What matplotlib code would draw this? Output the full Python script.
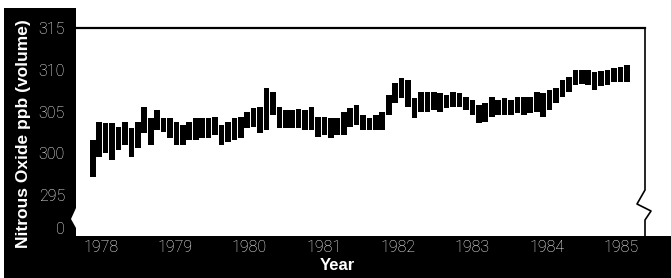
import matplotlib
matplotlib.use("Agg")
import matplotlib.pyplot as plt
import numpy as np
from matplotlib.patches import Rectangle, Polygon
from matplotlib.lines import Line2D

# monthly range of nitrous oxide (ppb)
lows = [297.2, 299.5, 300.0, 299.2, 300.4, 301.0, 299.5, 300.6, 302.4, 301.0,
        302.8, 302.5, 301.8, 301.0, 301.0,
        301.6, 301.6, 301.8, 301.8, 302.2, 301.0, 301.3, 301.6, 301.8, 303.0,
        303.1, 302.4, 302.8, 304.6,
        303.0, 303.0, 303.0, 303.0, 302.8, 302.8, 302.0, 302.2, 301.8, 302.2,
        302.2, 303.1, 303.4, 302.8, 302.8, 302.8, 302.8, 304.6, 306.0, 306.6,
        305.5, 304.2, 304.9, 304.9, 305.2, 304.9, 305.4, 305.5, 305.5,
        305.2, 304.6, 303.6, 303.8, 304.3, 304.6, 304.6, 304.6, 304.8, 304.6,
        304.8, 304.9, 304.3, 305.2, 306.0, 306.7, 307.3, 308.2, 308.3, 308.2,
        307.6, 308.0, 308.2, 308.5, 308.5, 308.5]
highs = [301.6, 303.7, 303.6, 303.6, 303.1, 303.7, 303.0, 303.7, 305.5, 304.2,
         305.2, 304.2, 304.2, 303.7, 303.4,
         303.7, 304.2, 304.2, 304.2, 304.3, 303.4, 303.7, 304.2, 304.3, 304.9,
         305.4, 305.5, 307.8, 307.3,
         305.5, 305.2, 305.2, 305.3, 305.2, 305.5, 304.3, 304.3, 304.2, 304.2,
         304.9, 305.4, 305.8, 304.6, 304.2, 304.6, 304.9, 307.0, 308.4, 309.0,
         308.8, 306.6, 307.3, 307.3, 307.3, 307.2, 307.0, 307.3, 307.2,
         306.7, 306.4, 305.8, 306.0, 306.7, 306.4, 306.6, 306.4, 306.7, 306.7,
         306.7, 307.3, 307.2, 307.6, 307.8, 308.8, 309.1, 310.0, 310.0, 310.0,
         309.7, 309.8, 310.0, 310.2, 310.3, 310.6]
first_year = 1977.89
last_year = 1985.08

years = [1978, 1979, 1980, 1981, 1982, 1983, 1984, 1985]
y_ticks = [295, 300, 305, 310, 315]

W, H = 671, 278


def fx(px):
    return px / W


def fy(py):
    return 1 - py / H


fig = plt.figure(figsize=(W / 100, H / 100), dpi=100)
fig.patch.set_facecolor("white")

# black L-shaped frame from the scan (behind the axes so tick labels show)
fig.patches.append(Rectangle((fx(4), 0), fx(76) - fx(4), fy(8), transform=fig.transFigure,
                             facecolor="black", edgecolor="none", zorder=-5))
fig.patches.append(Rectangle((fx(4), 0), 1 - fx(4), fy(236), transform=fig.transFigure,
                             facecolor="black", edgecolor="none", zorder=-5))

ax = fig.add_axes([fx(76), fy(236), fx(645) - fx(76), fy(28) - fy(236)])
ax.set_facecolor("white")

x = np.linspace(first_year, last_year, len(lows))
lo = np.array(lows)
hi = np.array(highs)
ax.bar(x, hi - lo, bottom=lo, width=0.076, color="black", linewidth=0)

ax.set_xlim(1977.664, 1985.325)
ax.set_ylim(290.1, 315)
ax.set_xticks(years)
ax.set_xticklabels([str(y) for y in years])
break_pos = 291.05
ax.set_yticks([break_pos] + y_ticks)
ax.set_yticklabels(["0"] + [str(v) for v in y_ticks])

for lab in ax.get_xticklabels() + ax.get_yticklabels():
    lab.set_fontfamily("Roboto")
    lab.set_fontweight("light")
    lab.set_fontsize(11.5)
ax.tick_params(axis="y", colors="white", length=0, pad=8)
ax.tick_params(axis="x", colors="white", length=0, pad=3)

for side in ["left", "bottom", "right"]:
    ax.spines[side].set_visible(False)
ax.spines["top"].set_linewidth(1.6)
ax.spines["top"].set_color("black")

# right border with the axis-break zigzag
zx = [645, 645, 637, 651, 645, 645]
zy = [28, 190, 204, 211, 220, 236]
fig.lines.append(Line2D([fx(p) for p in zx], [fy(p) for p in zy], transform=fig.transFigure,
                        color="black", linewidth=1.2))
# white notch on the left edge (break mark)
fig.patches.append(Polygon([(fx(76), fy(208)), (fx(71), fy(219)), (fx(76), fy(228))],
                           closed=True, transform=fig.transFigure,
                           facecolor="white", edgecolor="none", zorder=1))

fig.text(fx(24), fy(134), "Nitrous Oxide ppb (volume)", rotation=90, color="white",
         family="Liberation Sans", weight="bold", fontsize=12.5, ha="center", va="center")
fig.text(fx(337), fy(265), "Year", color="white", family="Liberation Sans",
         weight="bold", fontsize=12, ha="center", va="center")

fig.savefig("out.png", dpi=100)
plt.close(fig)
